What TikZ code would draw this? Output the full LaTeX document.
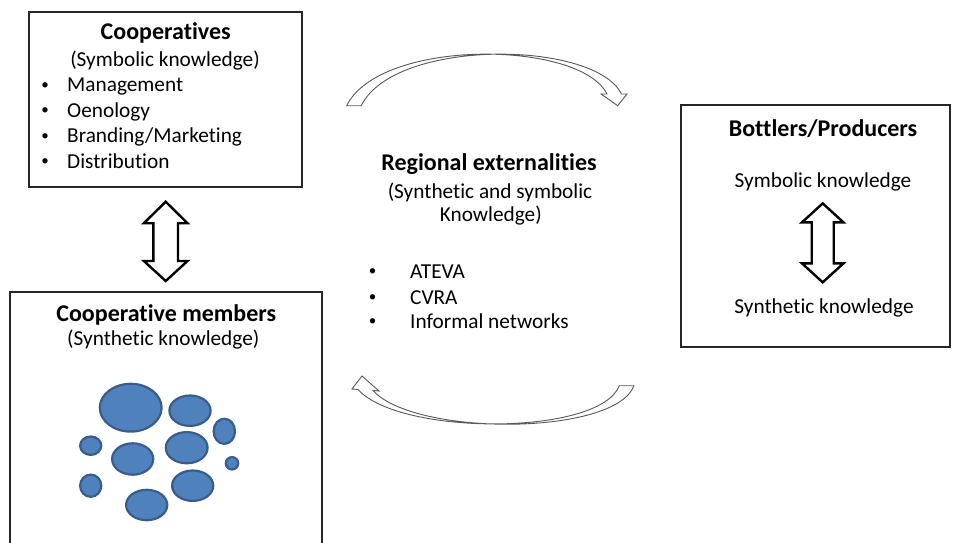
\documentclass[tikz,border=0pt]{standalone}
\usepackage{fontspec}
\setmainfont{Carlito}[Ligatures=NoCommon]
\definecolor{blobfill}{HTML}{4F81BD}
\definecolor{blobline}{HTML}{385D8A}
\newcommand\DblArr[7]{%
 \draw[dbl] (#1,#2) -- (#1+#4,#2+#6) -- (#1+#5,#2+#6) -- (#1+#5,#3-#7) -- (#1+#4,#3-#7) -- (#1,#3) -- (#1-#4,#3-#7) -- (#1-#5,#3-#7) -- (#1-#5,#2+#6) -- (#1-#4,#2+#6) -- cycle;}
\begin{document}
\begin{tikzpicture}[x=1pt,y=-1pt,
  box/.style={draw=black!85,line width=1.5pt,inner sep=0pt},
  ttl/.style={font=\fontsize{24}{28}\selectfont\bfseries,anchor=base,inner sep=0pt},
  txt/.style={font=\fontsize{21.3}{25}\selectfont,anchor=base,inner sep=0pt},
  txtl/.style={txt,anchor=base west},
  bul/.style={font=\fontsize{15}{18}\selectfont,anchor=base,inner sep=0pt,yshift=2.5pt},
  blob/.style={fill=blobfill,draw=blobline,line width=2.2pt},
  curv/.style={draw=black!65,line width=0.9pt,fill=white,line join=miter},
  dbl/.style={draw=black,line width=2.4pt,line join=miter,fill=white}]
\useasboundingbox (0,0) rectangle (955,543);
\fill[white] (0,0) rectangle (955,543);
% boxes
\node[box,minimum width=273pt,minimum height=175pt] (coop) at (165.5,99.5) {};
\node[box,minimum width=312pt,minimum height=268pt] (mem) at (166,426) {};
\node[box,minimum width=269pt,minimum height=242pt] (bot) at (815.5,226) {};
% cooperatives text
\node[ttl] (coopT) at (165.7,40) {Cooperatives};
\node[txt] (coopS) at (165,66.7) {(Symbolic knowledge)};
\node[bul] (cb1) at (45,91.7) {•};
\node[txtl] (ct1) at (67,91.7) {Management};
\node[bul] (cb2) at (45,117) {•};
\node[txtl] (ct2) at (67,117) {Oenology};
\node[bul] (cb3) at (45,142.7) {•};
\node[txtl] (ct3) at (67,142.7) {Branding/Marketing};
\node[bul] (cb4) at (45,168) {•};
\node[txtl] (ct4) at (67,168) {Distribution};
% members
\node[ttl] (memT) at (166.3,321.7) {Cooperative members};
\node[txt] (memS) at (163.3,345) {(Synthetic knowledge)};
% bottlers
\node[ttl] (botT) at (823,136) {Bottlers/Producers};
\node[txt] (botA) at (823,187) {Symbolic knowledge};
\node[txt] (botB) at (824,313) {Synthetic knowledge};
% regional
\node[ttl] (regT) at (489,170) {Regional externalities};
\node[txt] (regS1) at (490,198.3) {(Synthetic and symbolic};
\node[txt] (regS2) at (490.8,221.7) {Knowledge)};
\node[bul] (rb1) at (372.7,278.3) {•};
\node[txtl] (rt1) at (410,278.3) {ATEVA};
\node[bul] (rb2) at (372.7,304) {•};
\node[txtl] (rt2) at (410,304) {CVRA};
\node[bul] (rb3) at (372.7,328.3) {•};
\node[txtl] (rt3) at (410,328.3) {Informal networks};
% double arrows
\DblArr{165.7}{201.7}{281}{21.8}{12.3}{21.5}{20}
\DblArr{822.7}{203.4}{282.3}{20.8}{11}{19}{19}
% curved arrows
\draw[curv] (346.7,105.7) .. controls (380,38) and (580,40) .. (607,94) -- (601,94) -- (617.7,105.7) -- (627,94) -- (621.5,94) .. controls (594.5,40) and (394.5,38) .. (361.2,105.7) -- cycle;
\draw[curv] (619.3,385.7) .. controls (600,436) and (400,436) .. (358,389.5) -- (352,389) -- (362,376) -- (379,391) -- (373,390.5) .. controls (414.7,436.5) and (614.7,436) .. (634,385.7) -- cycle;
% blobs
\draw[blob] (130.7,407.7) ellipse [x radius=30.9, y radius=23.9];
\draw[blob] (190,410.7) ellipse [x radius=20.6, y radius=15.2];
\draw[blob] (224.3,431.3) ellipse [x radius=10.7, y radius=12.6];
\draw[blob] (90.7,445.7) ellipse [x radius=10.6, y radius=9.2];
\draw[blob] (132.7,459) ellipse [x radius=20.6, y radius=15.7];
\draw[blob] (186.7,447.7) ellipse [x radius=20.9, y radius=15.6];
\draw[blob] (232,463.3) ellipse [x radius=6.2, y radius=6.2];
\draw[blob] (90.7,485.7) ellipse [x radius=10.6, y radius=11.1];
\draw[blob] (192.7,485.7) ellipse [x radius=20.6, y radius=15.2];
\draw[blob] (146.7,505) ellipse [x radius=20.6, y radius=15.2];
\end{tikzpicture}
\end{document}
